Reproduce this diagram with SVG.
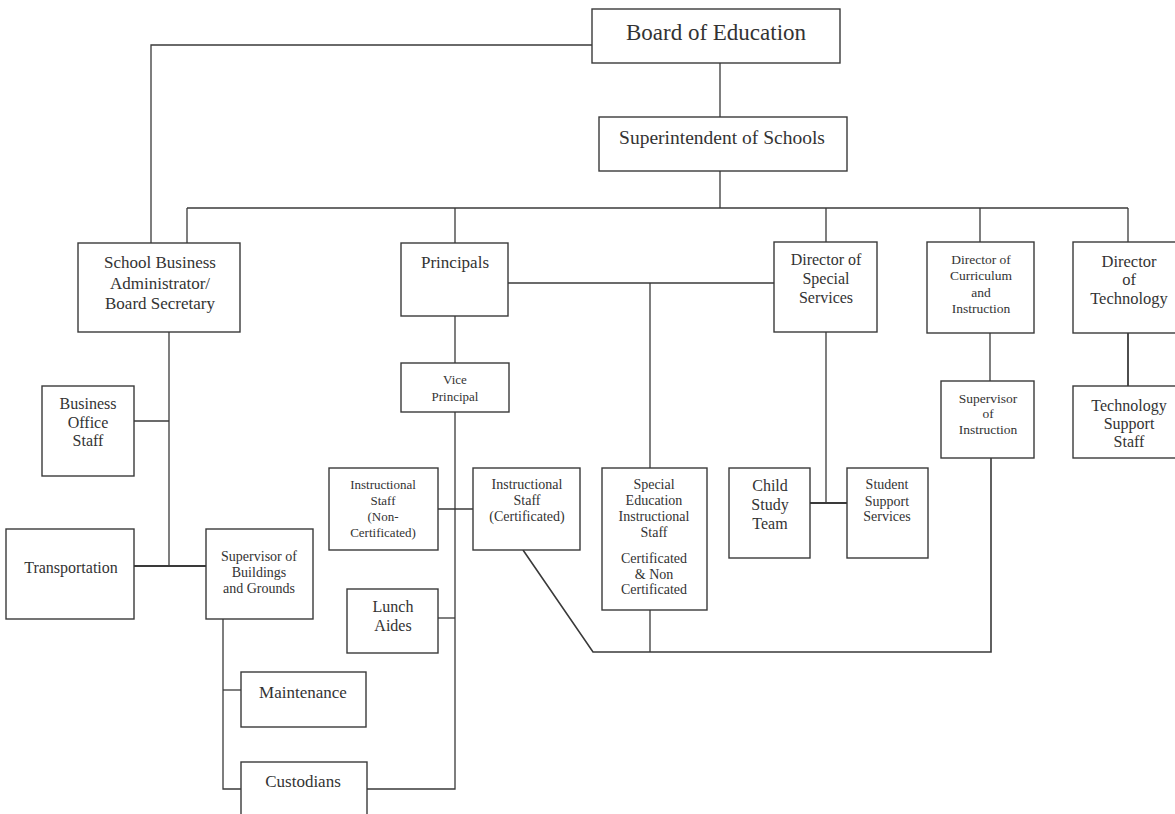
<svg xmlns="http://www.w3.org/2000/svg" width="1175" height="814" viewBox="0 0 1175 814">
<style>
.box{fill:#fff;stroke:#3a3a3a;stroke-width:1.4}
.ln{fill:none;stroke:#3a3a3a;stroke-width:1.3}
text{font-family:"Liberation Serif","Times New Roman",serif;fill:#333;text-anchor:middle}
</style>
<rect width="1175" height="814" fill="#fff"/>
<g id="connectors">
<polyline class="ln" points="592,45 151,45 151,243"/>
<line class="ln" x1="720" y1="63" x2="720" y2="117"/>
<line class="ln" x1="720" y1="171" x2="720" y2="208"/>
<line class="ln" x1="187" y1="208" x2="1128" y2="208"/>
<line class="ln" x1="187" y1="208" x2="187" y2="243"/>
<line class="ln" x1="455" y1="208" x2="455" y2="243"/>
<line class="ln" x1="826" y1="208" x2="826" y2="242"/>
<line class="ln" x1="980" y1="208" x2="980" y2="242"/>
<line class="ln" x1="1128" y1="208" x2="1128" y2="242"/>
<line class="ln" x1="508" y1="283" x2="774" y2="283"/>
<line class="ln" x1="650" y1="283" x2="650" y2="468"/>
<line class="ln" x1="455" y1="316" x2="455" y2="363"/>
<polyline class="ln" points="455,412 455,789 367,789"/>
<line class="ln" x1="438" y1="509" x2="473" y2="509"/>
<line class="ln" x1="438" y1="618" x2="455" y2="618"/>
<line class="ln" x1="169" y1="332" x2="169" y2="566"/>
<line class="ln" x1="134" y1="421" x2="169" y2="421"/>
<line class="ln" x1="134" y1="566" x2="206" y2="566" style="stroke-width:2"/>
<polyline class="ln" points="223,619 223,789 241,789"/>
<line class="ln" x1="223" y1="690" x2="241" y2="690"/>
<polyline class="ln" points="826,332 826,503"/>
<line class="ln" x1="810" y1="503" x2="847" y2="503" style="stroke-width:2"/>
<line class="ln" x1="990" y1="333" x2="990" y2="381"/>
<line class="ln" x1="1128" y1="333" x2="1128" y2="386" style="stroke-width:1.8"/>
<polyline class="ln" points="523,550 593,652 991,652 991,458" style="stroke-width:1.6"/>
<line class="ln" x1="650" y1="610" x2="650" y2="652"/>
</g>
<g id="board"><rect class="box" x="592" y="9" width="248" height="54"/><text x="716" y="40" font-size="23">Board of Education</text></g>
<g id="superintendent"><rect class="box" x="599" y="117" width="248" height="54"/><text x="722" y="144" font-size="19.5">Superintendent of Schools</text></g>
<g id="sba"><rect class="box" x="78" y="243" width="162" height="89"/><text font-size="17"><tspan x="160" y="268">School Business</tspan><tspan x="160" y="289">Administrator/</tspan><tspan x="160" y="309">Board Secretary</tspan></text></g>
<g id="principals"><rect class="box" x="401" y="243" width="107" height="73"/><text x="455" y="268" font-size="17">Principals</text></g>
<g id="dss"><rect class="box" x="774" y="242" width="103" height="90"/><text font-size="16"><tspan x="826" y="265">Director of</tspan><tspan x="826" y="284">Special</tspan><tspan x="826" y="303">Services</tspan></text></g>
<g id="dci"><rect class="box" x="927" y="242" width="107" height="91"/><text font-size="13.5"><tspan x="981" y="264">Director of</tspan><tspan x="981" y="280">Curriculum</tspan><tspan x="981" y="297">and</tspan><tspan x="981" y="313">Instruction</tspan></text></g>
<g id="dtech"><rect class="box" x="1073" y="242" width="120" height="91"/><text font-size="16.5"><tspan x="1129" y="267">Director</tspan><tspan x="1129" y="285">of</tspan><tspan x="1129" y="304">Technology</tspan></text></g>
<g id="vp"><rect class="box" x="401" y="363" width="108" height="49"/><text font-size="13"><tspan x="455" y="384">Vice</tspan><tspan x="455" y="401">Principal</tspan></text></g>
<g id="bos"><rect class="box" x="42" y="386" width="92" height="90"/><text font-size="16"><tspan x="88" y="409">Business</tspan><tspan x="88" y="428">Office</tspan><tspan x="88" y="446">Staff</tspan></text></g>
<g id="transportation"><rect class="box" x="6" y="529" width="128" height="90"/><text x="71" y="573" font-size="16">Transportation</text></g>
<g id="sbg"><rect class="box" x="206" y="529" width="107" height="90"/><text font-size="14"><tspan x="259" y="561">Supervisor of</tspan><tspan x="259" y="577">Buildings</tspan><tspan x="259" y="593">and Grounds</tspan></text></g>
<g id="maintenance"><rect class="box" x="241" y="672" width="125" height="55"/><text x="303" y="698" font-size="17">Maintenance</text></g>
<g id="custodians"><rect class="box" x="241" y="762" width="126" height="60"/><text x="303" y="787" font-size="17">Custodians</text></g>
<g id="isnc"><rect class="box" x="329" y="468" width="109" height="82"/><text font-size="13"><tspan x="383" y="489">Instructional</tspan><tspan x="383" y="505">Staff</tspan><tspan x="383" y="521">(Non-</tspan><tspan x="383" y="537">Certificated)</tspan></text></g>
<g id="isc"><rect class="box" x="473" y="468" width="107" height="82"/><text font-size="14"><tspan x="527" y="489">Instructional</tspan><tspan x="527" y="505">Staff</tspan><tspan x="527" y="521">(Certificated)</tspan></text></g>
<g id="seis"><rect class="box" x="602" y="468" width="105" height="142"/><text font-size="14"><tspan x="654" y="489">Special</tspan><tspan x="654" y="505">Education</tspan><tspan x="654" y="521">Instructional</tspan><tspan x="654" y="537">Staff</tspan><tspan x="654" y="563">Certificated</tspan><tspan x="654" y="579">&amp; Non</tspan><tspan x="654" y="594">Certificated</tspan></text></g>
<g id="lunch"><rect class="box" x="347" y="589" width="91" height="64"/><text font-size="16"><tspan x="393" y="612">Lunch</tspan><tspan x="393" y="631">Aides</tspan></text></g>
<g id="cst"><rect class="box" x="729" y="468" width="81" height="90"/><text font-size="16"><tspan x="770" y="491">Child</tspan><tspan x="770" y="510">Study</tspan><tspan x="770" y="529">Team</tspan></text></g>
<g id="sss"><rect class="box" x="847" y="468" width="81" height="90"/><text font-size="14"><tspan x="887" y="489">Student</tspan><tspan x="887" y="506">Support</tspan><tspan x="887" y="521">Services</tspan></text></g>
<g id="soi"><rect class="box" x="941" y="381" width="93" height="77"/><text font-size="13.5"><tspan x="988" y="403">Supervisor</tspan><tspan x="988" y="418">of</tspan><tspan x="988" y="434">Instruction</tspan></text></g>
<g id="tss"><rect class="box" x="1073" y="386" width="120" height="72"/><text font-size="16"><tspan x="1129" y="411">Technology</tspan><tspan x="1129" y="429">Support</tspan><tspan x="1129" y="447">Staff</tspan></text></g>
</svg>
